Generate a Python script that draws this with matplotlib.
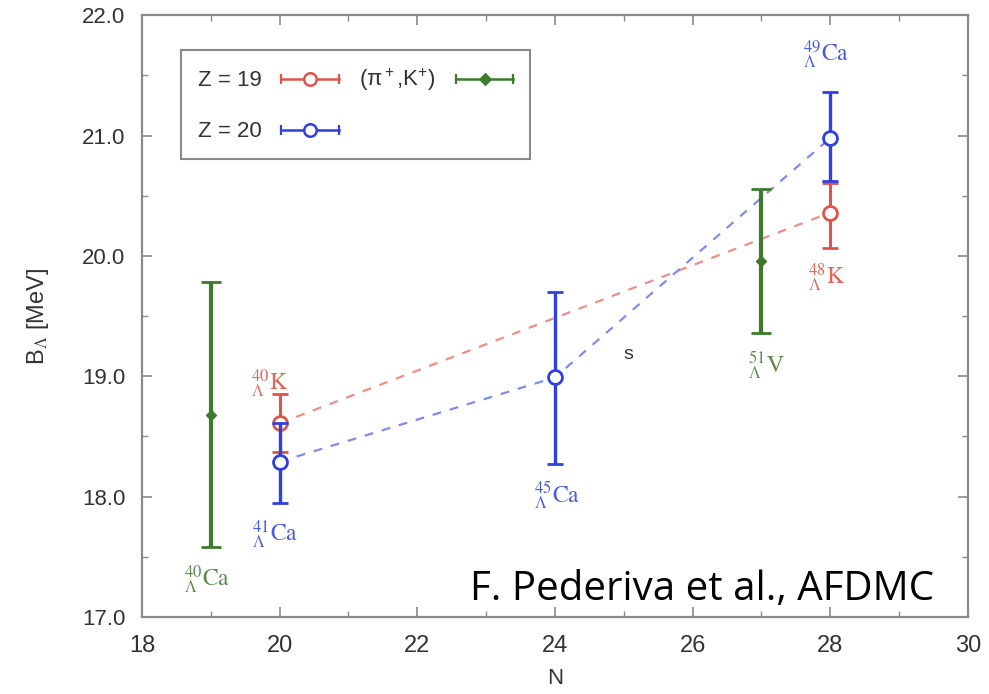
import numpy as np
import matplotlib
matplotlib.use("Agg")
import matplotlib.pyplot as plt
from matplotlib.lines import Line2D
from matplotlib.legend_handler import HandlerLine2D, HandlerTuple
from matplotlib.ticker import MultipleLocator, FormatStrFormatter

plt.rcParams['font.family'] = ['Liberation Sans', 'DejaVu Sans']
plt.rcParams['mathtext.fontset'] = 'stix'

# Data (N, B_Lambda [MeV], errors)
N_Z19 = [20, 28]
B_Z19 = [18.61, 20.36]
E_Z19_LO = [0.24, 0.29]
E_Z19_HI = [0.24, 0.25]

N_Z20 = [20, 24, 28]
B_Z20 = [18.29, 18.99, 20.98]
E_Z20_LO = [0.34, 0.72, 0.36]
E_Z20_HI = [0.32, 0.71, 0.38]

N_EXP = [19, 27]
B_EXP = [18.68, 19.96]
E_EXP = [1.1, 0.6]

# hypernucleus labels
LABELS_N = [19.86, 19.93, 18.95, 24.03, 27.07, 27.94, 27.94]
LABELS_B = [18.94, 17.68, 17.31, 18.01, 19.09, 19.82, 21.67]
LABELS_TXT = [r'${}^{40}_{\Lambda}\mathrm{K}$', r'${}^{41}_{\Lambda}\mathrm{Ca}$',
              r'${}^{40}_{\Lambda}\mathrm{Ca}$', r'${}^{45}_{\Lambda}\mathrm{Ca}$',
              r'${}^{51}_{\Lambda}\mathrm{V}$', r'${}^{48}_{\Lambda}\mathrm{K}$',
              r'${}^{49}_{\Lambda}\mathrm{Ca}$']
LABELS_GRP = ['red', 'blue', 'green', 'blue', 'green', 'red', 'blue']

RED = '#e0534a'
BLUE = '#2f3fe0'
GREEN = '#3d7a2a'
LABEL_COLORS = {'red': '#e0665a', 'blue': '#4a5ae0', 'green': '#5d8a4a'}
FRAME = '#8a8a8a'

fig = plt.figure(figsize=(9.89, 6.94), dpi=100)
ax = fig.add_axes([0.1436, 0.111, 0.835, 0.867])

# dashed connecting lines
ax.plot(N_Z19, B_Z19, ls=(0, (4, 4)), color='#ec8f86', lw=1.6, zorder=1)
ax.plot(N_Z20, B_Z20, ls=(0, (4, 4)), color='#7f8ced', lw=1.6, zorder=1)

ax.errorbar(N_Z19, B_Z19, yerr=[E_Z19_LO, E_Z19_HI], fmt='o', color=RED,
            mfc='white', mec=RED, ms=10, mew=2, elinewidth=2.2, capsize=6,
            capthick=1.8, zorder=3)
ax.errorbar(N_Z20, B_Z20, yerr=[E_Z20_LO, E_Z20_HI], fmt='o', color=BLUE,
            mfc='white', mec=BLUE, ms=10, mew=2, elinewidth=2.4, capsize=6,
            capthick=1.8, zorder=4)
ax.errorbar(N_EXP, B_EXP, yerr=E_EXP, fmt='D', color=GREEN, ms=5,
            elinewidth=3, capsize=7, capthick=2, zorder=2)

for n, b, t, g in zip(LABELS_N, LABELS_B, LABELS_TXT, LABELS_GRP):
    ax.text(n, b, t, color=LABEL_COLORS[g], fontsize=17, ha='center', va='center')

ax.text(25.06, 19.18, 's', fontsize=14, color='#333333', ha='center', va='center')


# legend handles: horizontal bar with end caps plus the marker in the middle
def legend_handle(color, marker, mfc, ms):
    bar = Line2D([], [], color=color, lw=1.8, marker='|', ms=7, mew=1.6)
    mk = Line2D([], [], color=color, ls='none', marker=marker, mfc=mfc,
                mec=color, ms=ms, mew=1.8)
    return bar, mk


bar19, mk19 = legend_handle(RED, 'o', 'white', 9)
bar20, mk20 = legend_handle(BLUE, 'o', 'white', 9)
barx, mkx = legend_handle(GREEN, 'D', GREEN, 5)
hmap = {bar19: HandlerLine2D(numpoints=2, marker_pad=0),
        bar20: HandlerLine2D(numpoints=2, marker_pad=0),
        barx: HandlerLine2D(numpoints=2, marker_pad=0),
        tuple: HandlerTuple(ndivide=1)}
leg = ax.legend([(bar19, mk19), (bar20, mk20), (barx, mkx)],
                ['Z = 19', 'Z = 20', r'($\mathregular{\pi^+}$,K$^\mathregular{+}$)'],
                handler_map=hmap, numpoints=1,
                ncol=2, loc='upper left', bbox_to_anchor=(0.047, 0.942),
                borderaxespad=0, markerfirst=False, fancybox=False,
                edgecolor=FRAME, framealpha=1, fontsize=16, handlelength=2.6,
                columnspacing=0.9, handletextpad=0.9, labelspacing=1.35,
                borderpad=0.75)
leg.get_frame().set_linewidth(1.5)
for t in leg.get_texts():
    t.set_color('#333333')

ax.set_xlim(18, 30)
ax.set_ylim(17, 22)
ax.xaxis.set_major_locator(MultipleLocator(2))
ax.xaxis.set_minor_locator(MultipleLocator(1))
ax.yaxis.set_major_locator(MultipleLocator(1))
ax.yaxis.set_minor_locator(MultipleLocator(0.5))
ax.yaxis.set_major_formatter(FormatStrFormatter('%.1f'))
ax.tick_params(which='both', direction='in', top=True, right=True, color=FRAME)
ax.tick_params(which='major', length=7, width=1.2, labelcolor='#333333')
ax.tick_params(which='minor', length=4, width=1.0)
ax.tick_params(axis='x', pad=13, labelsize=17)
ax.tick_params(axis='y', pad=12, labelsize=16)
for s in ax.spines.values():
    s.set_color(FRAME)
    s.set_linewidth(1.6)

ax.set_xlabel('N', fontsize=16, color='#333333', labelpad=8)
ax.set_ylabel(r'B$_\Lambda$ [MeV]', fontsize=17, color='#333333', labelpad=22)

ax.text(0.397, 0.028, 'F. Pederiva et al., AFDMC', transform=ax.transAxes,
        fontsize=29, family='Open Sans', color='black', ha='left', va='baseline')

fig.savefig('out.png', dpi=100)
